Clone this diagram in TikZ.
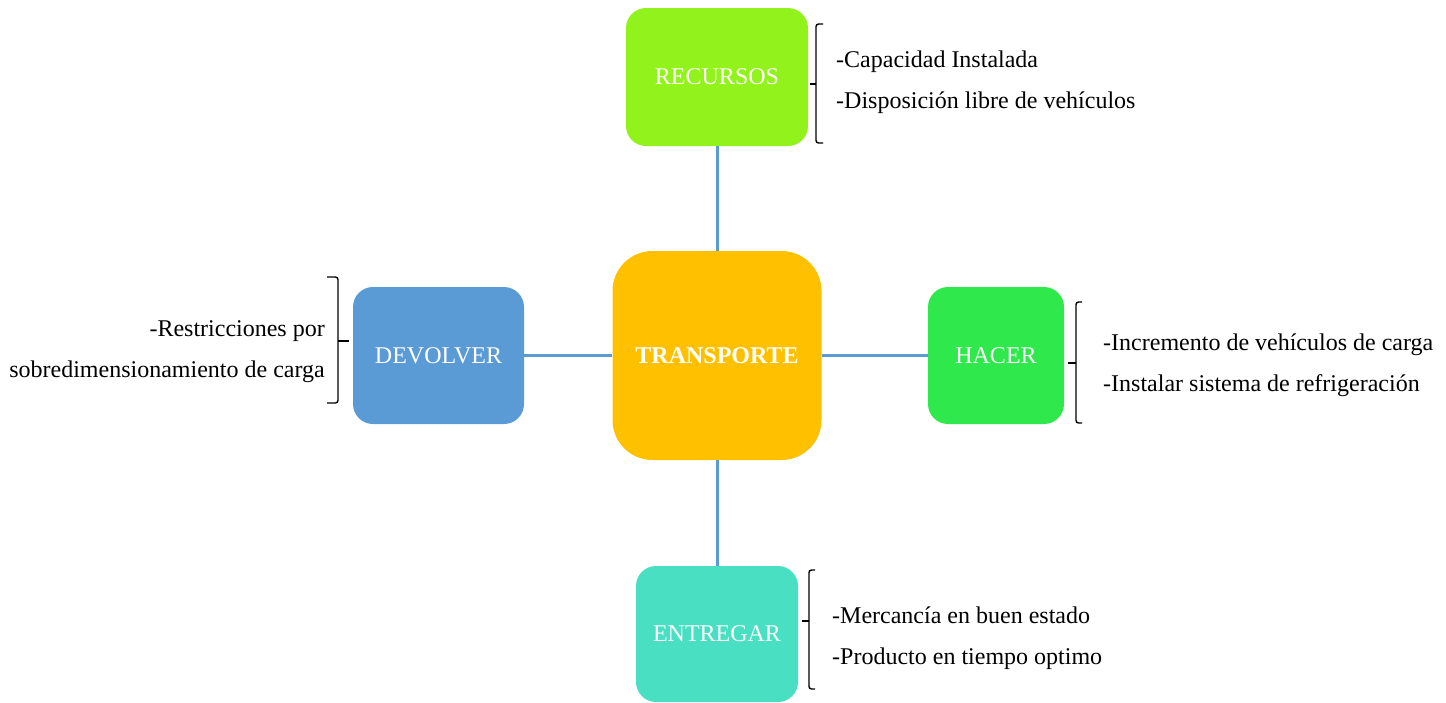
\documentclass[tikz,border=0pt]{standalone}
\usepackage{fontspec}
\setmainfont{Liberation Serif}
\definecolor{cRec}{RGB}{146,242,28}
\definecolor{cTra}{RGB}{255,192,0}
\definecolor{cDev}{RGB}{91,155,213}
\definecolor{cHac}{RGB}{47,232,75}
\definecolor{cEnt}{RGB}{72,223,194}
\definecolor{cLine}{RGB}{91,155,213}
\tikzset{
  boxnode/.style={fill=#1, draw=none, text=white, inner sep=0pt,
    rounded corners=20pt, font=\fontsize{24}{29}\selectfont},
  link/.style={draw=cLine, line width=3pt},
  bracketsty/.style={draw=black, line width=1.4pt, rounded corners=2.5pt},
  ticksty/.style={draw=black, line width=1.4pt},
  txt/.style={font=\fontsize{24}{41}\selectfont, inner sep=0pt, text=black}
}
\begin{document}
\begin{tikzpicture}[x=1pt,y=-1pt]
\useasboundingbox (0,0) rectangle (1446,702);
% boxes
\node[boxnode=cRec, minimum width=182pt, minimum height=138pt] (rec) at (717,77) {RECURSOS};
\node[boxnode=cTra, minimum width=209pt, minimum height=209pt, rounded corners=40pt,
  font=\fontsize{24}{29}\selectfont\bfseries] (tra) at (717,355.5) {TRANSPORTE};
\node[boxnode=cDev, minimum width=171pt, minimum height=137pt] (dev) at (438.5,355.5) {DEVOLVER};
\node[boxnode=cHac, minimum width=136pt, minimum height=137pt] (hac) at (996,355.5) {HACER};
\node[boxnode=cEnt, minimum width=162pt, minimum height=136pt] (ent) at (717,634) {ENTREGAR};
% connectors
\draw[link] (tra) -- (rec);
\draw[link] (tra) -- (ent);
\draw[link] (tra) -- (dev);
\draw[link] (tra) -- (hac);
% brackets (RECURSOS)
\draw[bracketsty] (823,24) -- (816,24) -- (816,143) -- (823,143);
\draw[ticksty] (816,84) -- (810,84);
% brackets (DEVOLVER)
\draw[bracketsty] (327,277) -- (338,277) -- (338,403) -- (327,403);
\draw[ticksty] (338,341) -- (349,341);
% brackets (HACER)
\draw[bracketsty] (1082,302) -- (1076,302) -- (1076,423) -- (1082,423);
\draw[ticksty] (1076,363) -- (1068,363);
% brackets (ENTREGAR)
\draw[bracketsty] (815,570) -- (809,570) -- (809,689) -- (815,689);
\draw[ticksty] (809,621) -- (802,621);
% lists
\node[txt, anchor=west, align=left] (l1) at (836,82) {-Capacidad Instalada\\-Disposición libre de vehículos};
\node[txt, anchor=east, align=right] (l2) at (325,352) {-Restricciones por\\sobredimensionamiento de carga};
\node[txt, anchor=west, align=left] (l3) at (1103,365) {-Incremento de vehículos de carga\\-Instalar sistema de refrigeración};
\node[txt, anchor=west, align=left] (l4) at (832,638) {-Mercancía en buen estado\\-Producto en tiempo optimo};
\end{tikzpicture}
\end{document}
